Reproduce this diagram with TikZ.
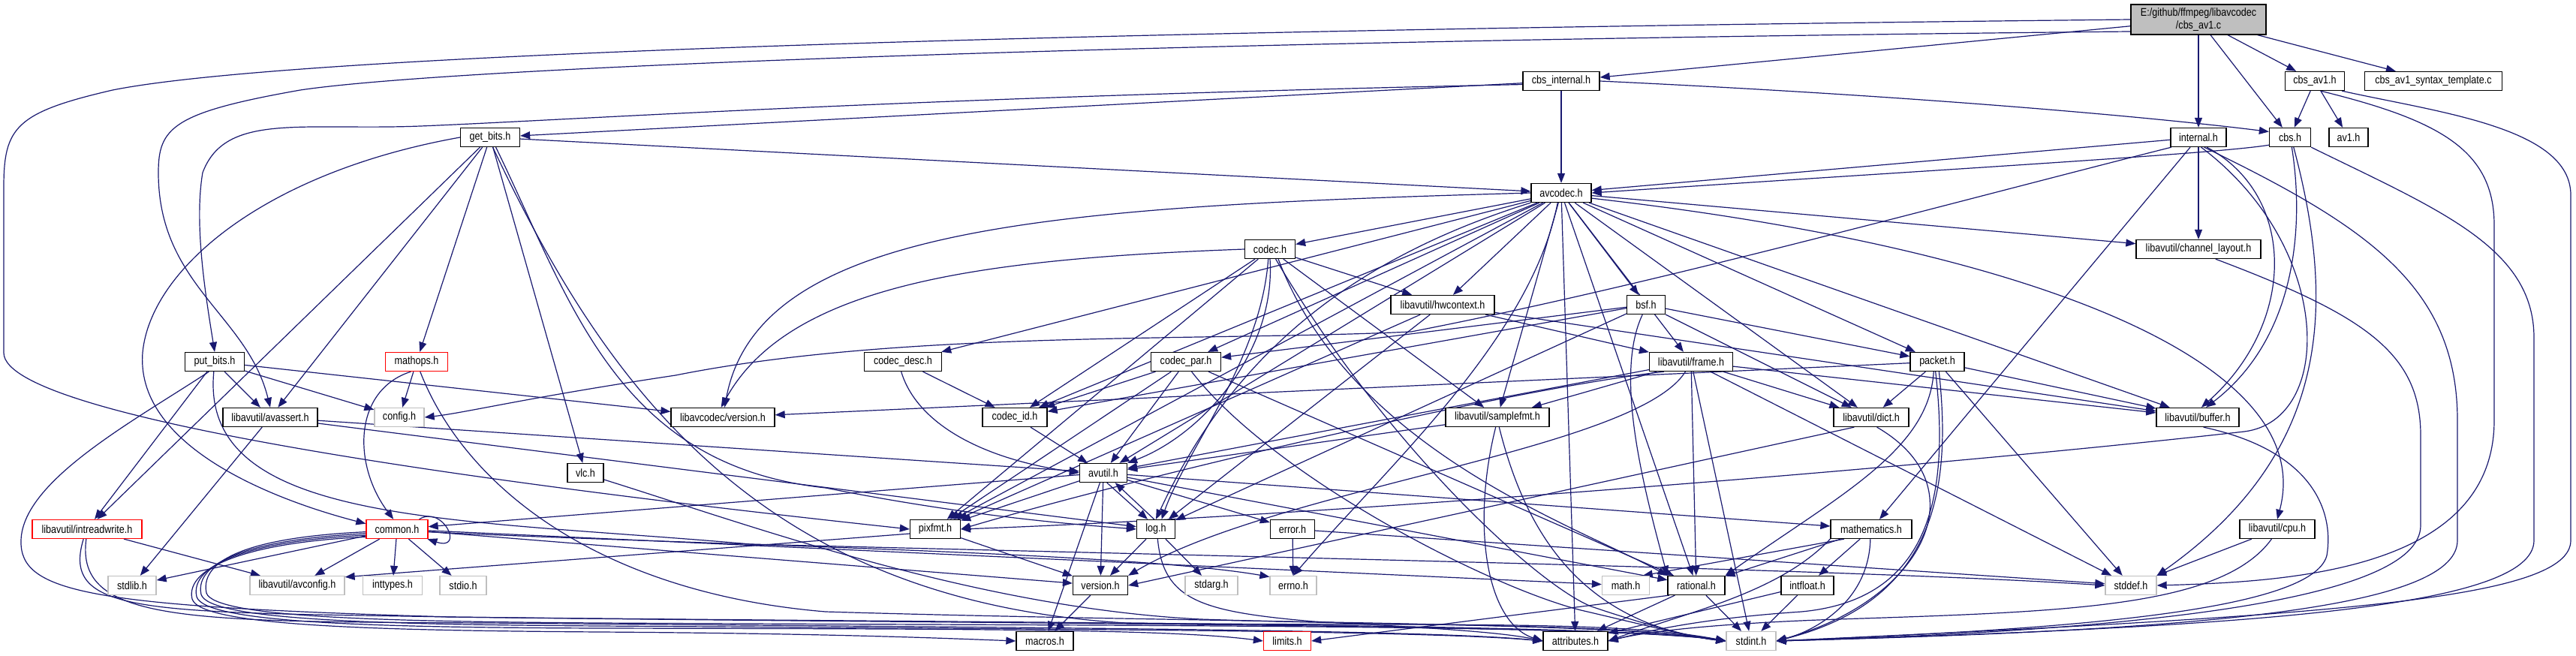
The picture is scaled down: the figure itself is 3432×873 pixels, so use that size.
\documentclass[tikz,border=0pt]{standalone}
\usepackage{fontspec}
\setmainfont{Liberation Sans}[FakeStretch=0.85]
\usepackage{tikz}
\usetikzlibrary{arrows.meta}
\definecolor{edgeblue}{RGB}{25,25,112}
\definecolor{boxgray}{RGB}{191,191,191}
\pgfdeclarelayer{bg}
\pgfdeclarelayer{edges}
\pgfsetlayers{bg,edges,main}

\begin{document}
\begin{tikzpicture}[x=0.5pt, y=-0.5pt, every node/.style={font=\fontsize{7.4}{8.2}\selectfont},
  hdr/.style={draw=black, fill=white, line width=0.65pt, minimum height=12.5pt, inner xsep=2pt, inner ysep=0pt},
  sysh/.style={hdr, draw=boxgray},
  trunc/.style={hdr, draw=red},
  rootf/.style={hdr, fill=boxgray, align=center, minimum height=20pt},
  wd/.style={minimum width=#1*0.5pt},
  dep/.style={draw=edgeblue, line width=0.6pt, -{Triangle[length=6.5pt,width=5pt]}}]
  \useasboundingbox (0,0) rectangle (3432,873);
  \begin{pgfonlayer}{bg}
    \fill[white] (0,0) rectangle (3432,873);
  \end{pgfonlayer}
  \node[rootf, wd=180] (cbsav1c) at (2929,26) {E:/github/ffmpeg/libavcodec\\/cbs\_av1.c};
  \node[hdr, wd=102] (cbsinternal) at (2080,108) {cbs\_internal.h};
  \node[hdr, wd=79] (cbsav1h) at (3084,108) {cbs\_av1.h};
  \node[hdr, wd=183] (template) at (3242,108) {cbs\_av1\_syntax\_template.c};
  \node[hdr, wd=74] (internal) at (2929,183) {internal.h};
  \node[hdr, wd=55] (cbsh) at (3051,183) {cbs.h};
  \node[hdr, wd=52] (av1h) at (3129,183) {av1.h};
  \node[hdr, wd=79] (getbits) at (653,183) {get\_bits.h};
  \node[hdr, wd=80] (avcodec) at (2080,257) {avcodec.h};
  \node[hdr, wd=166] (channellayout) at (2929,332) {libavutil/channel\_layout.h};
  \node[hdr, wd=67] (codec) at (1692,332) {codec.h};
  \node[hdr, wd=138] (hwcontext) at (1922,406) {libavutil/hwcontext.h};
  \node[hdr, wd=51] (bsf) at (2193,406) {bsf.h};
  \node[hdr, wd=79] (putbits) at (286,482) {put\_bits.h};
  \node[trunc, wd=83] (mathops) at (555,482) {mathops.h};
  \node[hdr, wd=103] (codecdesc) at (1203,482) {codec\_desc.h};
  \node[hdr, wd=93] (codecpar) at (1580,482) {codec\_par.h};
  \node[hdr, wd=111] (frame) at (2253,482) {libavutil/frame.h};
  \node[hdr, wd=72] (packet) at (2581,482) {packet.h};
  \node[hdr, wd=126] (avassert) at (360,556) {libavutil/avassert.h};
  \node[sysh, wd=66] (config) at (532,556) {config.h};
  \node[hdr, wd=138] (lavcversion) at (963,556) {libavcodec/version.h};
  \node[hdr, wd=86] (codecid) at (1352,556) {codec\_id.h};
  \node[hdr, wd=138] (samplefmt) at (1995,556) {libavutil/samplefmt.h};
  \node[hdr, wd=100] (dict) at (2493,556) {libavutil/dict.h};
  \node[hdr, wd=110] (buffer) at (2928,556) {libavutil/buffer.h};
  \node[hdr, wd=48] (vlc) at (780,630) {vlc.h};
  \node[hdr, wd=63] (avutil) at (1470,630) {avutil.h};
  \node[trunc, wd=146] (intreadwrite) at (116,705) {libavutil/intreadwrite.h};
  \node[trunc, wd=82] (common) at (529,705) {common.h};
  \node[hdr, wd=67] (pixfmt) at (1246,705) {pixfmt.h};
  \node[hdr, wd=51] (log) at (1540,705) {log.h};
  \node[hdr, wd=59] (error) at (1722,705) {error.h};
  \node[hdr, wd=108] (mathematics) at (2493,705) {mathematics.h};
  \node[hdr, wd=100] (cpu) at (3034,705) {libavutil/cpu.h};
  \node[sysh, wd=64] (stdlib) at (176,780) {stdlib.h};
  \node[sysh, wd=126] (avconfig) at (396,780) {libavutil/avconfig.h};
  \node[sysh, wd=79] (inttypes) at (523,780) {inttypes.h};
  \node[sysh, wd=62] (stdio) at (617,780) {stdio.h};
  \node[hdr, wd=73] (version) at (1466,780) {version.h};
  \node[sysh, wd=70] (stdarg) at (1614,780) {stdarg.h};
  \node[sysh, wd=62] (errno) at (1723,780) {errno.h};
  \node[sysh, wd=63] (math) at (2166,780) {math.h};
  \node[hdr, wd=76] (rational) at (2260,780) {rational.h};
  \node[hdr, wd=70] (intfloat) at (2408,780) {intfloat.h};
  \node[sysh, wd=68] (stddef) at (2839,780) {stddef.h};
  \node[hdr, wd=76] (macros) at (1392,854) {macros.h};
  \node[trunc, wd=63] (limits) at (1715,854) {limits.h};
  \node[hdr, wd=86] (attributes) at (2099,854) {attributes.h};
  \node[sysh, wd=66] (stdint) at (2333,854) {stdint.h};
  \begin{pgfonlayer}{edges}
  \draw[dep] (cbsav1c.west) .. controls (1500,40) and (400,70) .. (150,120) .. controls (20,150) and (5,170) .. (5,250) -- (5,470) .. controls (5,560) and (700,650) .. (pixfmt.west);
  \draw[dep] (cbsav1c.190) .. controls (1500,55) and (600,90) .. (400,120) .. controls (230,150) and (211,170) .. (211,230) .. controls (211,380) and (330,420) .. (avassert.north);
  \draw[dep] (cbsav1c) -- (cbsinternal);
  \draw[dep] (cbsav1c) -- (internal);
  \draw[dep] (cbsav1c) -- (cbsh);
  \draw[dep] (cbsav1c) -- (cbsav1h);
  \draw[dep] (cbsav1c) -- (template);
  \draw[dep] (cbsinternal) -- (avcodec);
  \draw[dep] (cbsinternal.east) .. controls (2600,130) and (2900,160) .. (cbsh.165);
  \draw[dep] (cbsinternal) -- (getbits);
  \draw[dep] (cbsinternal.185) .. controls (1200,130) and (760,160) .. (560,168) .. controls (400,174) and (300,150) .. (270,230) .. controls (258,300) and (275,400) .. (putbits.north);
  \draw[dep] (cbsav1h) -- (cbsh);
  \draw[dep] (cbsav1h) -- (av1h);
  \draw[dep] (cbsav1h.-60) .. controls (3250,160) and (3323,200) .. (3323,300) -- (3323,560) .. controls (3323,760) and (3050,775) .. (stddef.east);
  \draw[dep] (cbsav1h.-20) .. controls (3250,150) and (3425,170) .. (3425,260) -- (3425,720) .. controls (3425,800) and (3100,820) .. (stdint.east);
  \draw[dep] (cbsh.200) .. controls (2950,205) and (2600,225) .. (avcodec.east);
  \draw[dep] (cbsh.-80) .. controls (3070,300) and (3060,450) .. (buffer.50);
  \draw[dep] (cbsh.-70) .. controls (3110,400) and (3110,600) .. (stddef.north east);
  \draw[dep] (cbsh.south east) .. controls (3250,280) and (3376,330) .. (3376,450) -- (3376,720) .. controls (3376,810) and (3000,835) .. (stdint.east);
  \draw[dep] (internal) -- (avcodec);
  \draw[dep] (internal) -- (channellayout);
  \draw[dep] (internal) -- (mathematics);
  \draw[dep] (internal.-50) .. controls (3060,260) and (3060,430) .. (buffer.70);
  \draw[dep] (internal.-75) .. controls (3110,330) and (3110,560) .. (2990,575) .. controls (2500,630) and (1700,690) .. (pixfmt.east);
  \draw[dep] (internal.-60) .. controls (3150,300) and (3274,380) .. (3274,560) -- (3274,720) .. controls (3274,815) and (2900,840) .. (stdint.east);
  \draw[dep] (internal.200) .. controls (2600,270) and (2200,380) .. (1880,442) .. controls (1600,455) and (1200,440) .. (900,500) .. controls (700,530) and (620,550) .. (config.east);
  \draw[dep] (getbits) -- (avcodec);
  \draw[dep] (getbits) -- (mathops);
  \draw[dep] (getbits) -- (vlc);
  \draw[dep] (getbits) -- (avassert);
  \draw[dep] (getbits) -- (intreadwrite);
  \draw[dep] (getbits.west) .. controls (350,230) and (200,360) .. (190,470) .. controls (180,600) and (380,670) .. (common.170);
  \draw[dep] (getbits.-60) .. controls (760,400) and (820,620) .. (1100,650) .. controls (1300,690) and (1450,700) .. (log.west);
  \draw[dep] (getbits.-75) .. controls (800,500) and (1000,800) .. (1500,830) .. controls (1900,835) and (2150,825) .. (stdint.west);
  \draw[dep] (putbits) -- (config);
  \draw[dep] (putbits) -- (intreadwrite);
  \draw[dep] (putbits) -- (avassert);
  \draw[dep] (putbits) -- (lavcversion);
  \draw[dep] (putbits.-120) .. controls (180,560) and (30,640) .. (28,720) .. controls (26,790) and (120,808) .. (600,822) .. controls (1400,832) and (2150,832) .. (stdint.west);
  \draw[dep] (putbits.-95) .. controls (265,700) and (600,690) .. (1000,725) .. controls (1800,745) and (2500,760) .. (stddef.west);
  \draw[dep] (avcodec) -- (codec);
  \draw[dep] (avcodec) -- (hwcontext);
  \draw[dep] (avcodec) -- (bsf);
  \draw[dep] (avcodec) -- (codecdesc);
  \draw[dep] (avcodec) -- (codecpar);
  \draw[dep] (avcodec) -- (codecid);
  \draw[dep] (avcodec) -- (frame);
  \draw[dep] (avcodec) -- (packet);
  \draw[dep] (avcodec) -- (samplefmt);
  \draw[dep] (avcodec) -- (dict);
  \draw[dep] (avcodec) -- (buffer);
  \draw[dep] (avcodec) -- (channellayout);
  \draw[dep] (avcodec) -- (avutil);
  \draw[dep] (avcodec) -- (pixfmt);
  \draw[dep] (avcodec) -- (rational);
  \draw[dep] (avcodec) -- (attributes);
  \draw[dep] (avcodec.west) .. controls (1400,275) and (1010,300) .. (lavcversion.80);
  \draw[dep] (avcodec.south west) .. controls (1750,360) and (1620,520) .. (log.north);
  \draw[dep] (avcodec.-110) .. controls (2040,450) and (1850,620) .. (errno.north);
  \draw[dep] (avcodec.-10) .. controls (2700,330) and (3090,480) .. (cpu.north);
  \draw[dep] (codec) -- (hwcontext);
  \draw[dep] (codec) -- (pixfmt);
  \draw[dep] (codec) -- (samplefmt);
  \draw[dep] (codec) -- (codecid);
  \draw[dep] (codec.south) .. controls (1700,470) and (1600,580) .. (avutil.north east);
  \draw[dep] (codec.-100) .. controls (1680,480) and (1580,600) .. (log.60);
  \draw[dep] (codec.-50) .. controls (1800,600) and (2100,700) .. (rational.north west);
  \draw[dep] (codec.-60) .. controls (1850,600) and (2050,780) .. (2120,808) .. controls (2200,835) and (2260,850) .. (stdint.west);
  \draw[dep] (codec.west) .. controls (1300,345) and (1050,380) .. (lavcversion.100);
  \draw[dep] (codecdesc) -- (codecid);
  \draw[dep] (codecdesc.-100) .. controls (1220,560) and (1300,610) .. (avutil.west);
  \draw[dep] (codecid) -- (avutil);
  \draw[dep] (codecpar) -- (codecid);
  \draw[dep] (codecpar) -- (avutil);
  \draw[dep] (codecpar) -- (pixfmt);
  \draw[dep] (codecpar) -- (rational);
  \draw[dep] (codecpar.-60) .. controls (1700,640) and (2000,790) .. (2115,815) .. controls (2200,835) and (2260,850) .. (stdint.west);
  \draw[dep] (bsf) -- (codecpar);
  \draw[dep] (bsf) -- (codecid);
  \draw[dep] (bsf) -- (packet);
  \draw[dep] (bsf) -- (dict);
  \draw[dep] (bsf) -- (log);
  \draw[dep] (bsf.-110) .. controls (2150,500) and (2190,650) .. (rational.north west);
  \draw[dep] (hwcontext) -- (buffer);
  \draw[dep] (hwcontext) -- (frame);
  \draw[dep] (hwcontext) -- (log);
  \draw[dep] (hwcontext) -- (pixfmt);
  \draw[dep] (packet) -- (buffer);
  \draw[dep] (packet) -- (dict);
  \draw[dep] (packet) -- (stddef);
  \draw[dep] (packet) -- (lavcversion);
  \draw[dep] (packet.-110) .. controls (2570,600) and (2450,660) .. (rational.north east);
  \draw[dep] (packet.-100) .. controls (2600,680) and (2560,800) .. (2400,815) .. controls (2250,825) and (2180,845) .. (attributes.east);
  \draw[dep] (packet.-80) .. controls (2600,650) and (2580,800) .. (stdint.east);
  \draw[dep] (frame) -- (samplefmt);
  \draw[dep] (frame) -- (dict);
  \draw[dep] (frame) -- (buffer);
  \draw[dep] (frame) -- (rational);
  \draw[dep] (frame) -- (avutil);
  \draw[dep] (frame) -- (stddef);
  \draw[dep] (frame) -- (stdint);
  \draw[dep] (frame.200) .. controls (2000,520) and (1500,640) .. (pixfmt.east);
  \draw[dep] (frame.-120) .. controls (2180,600) and (1700,650) .. (version.north east);
  \draw[dep] (samplefmt) -- (avutil);
  \draw[dep] (samplefmt.-100) .. controls (1960,700) and (1980,830) .. (attributes.west);
  \draw[dep] (samplefmt.-80) .. controls (2030,700) and (2100,830) .. (stdint.west);
  \draw[dep] (dict.-150) -- (version.east);
  \draw[dep] (dict.-60) .. controls (2640,650) and (2560,800) .. (stdint.east);
  \draw[dep] (buffer.-60) .. controls (3080,600) and (3110,680) .. (3100,740) .. controls (3080,820) and (2700,840) .. (stdint.east);
  \draw[dep] (channellayout.-30) .. controls (3150,420) and (3225,470) .. (3225,580) -- (3225,700) .. controls (3225,800) and (2850,840) .. (stdint.east);
  \draw[dep] (cpu) -- (stddef);
  \draw[dep] (cpu.-120) .. controls (2960,810) and (2750,815) .. (2450,825) .. controls (2300,830) and (2200,840) .. (attributes.east);
  \draw[dep] (mathematics) -- (rational);
  \draw[dep] (mathematics) -- (intfloat);
  \draw[dep] (mathematics.200) -- (math.30);
  \draw[dep] (mathematics.south west) .. controls (2370,790) and (2250,815) .. (attributes.east);
  \draw[dep] (mathematics.-95) .. controls (2490,800) and (2420,840) .. (stdint.east);
  \draw[dep] (rational) -- (stdint);
  \draw[dep] (rational) -- (attributes);
  \draw[dep] (rational.200) -- (limits.east);
  \draw[dep] (intfloat) -- (stdint);
  \draw[dep] (intfloat) -- (attributes);
  \draw[dep] (avutil) -- (common);
  \draw[dep] (avutil) -- (error);
  \draw[dep] (avutil) -- (rational);
  \draw[dep] (avutil) -- (version);
  \draw[dep] (avutil) -- (macros);
  \draw[dep] (avutil) -- (mathematics);
  \draw[dep] (avutil) -- (pixfmt);
  \draw[dep] (avutil.-70) -- (log.130);
  \draw[dep] (log.100) -- (avutil.-40);
  \draw[dep] (log) -- (stdarg);
  \draw[dep] (log) -- (version);
  \draw[dep] (log.-80) .. controls (1550,800) and (1600,815) .. (1750,828) .. controls (1900,836) and (2000,842) .. (attributes.west);
  \draw[dep] (error) -- (errno);
  \draw[dep] (error) -- (stddef);
  \draw[dep] (pixfmt.190) -- (avconfig.10);
  \draw[dep] (pixfmt) -- (version);
  \draw[dep] (version) -- (macros);
  \draw[dep] (common) -- (stdlib);
  \draw[dep] (common) -- (avconfig);
  \draw[dep] (common) -- (inttypes);
  \draw[dep] (common) -- (stdio);
  \draw[dep] (common) -- (version);
  \draw[dep] (common) -- (math);
  \draw[dep] (common.-5) .. controls (900,725) and (1500,735) .. (errno.160);
  \draw[dep] (common.185) .. controls (350,715) and (265,740) .. (275,790) .. controls (285,822) and (500,828) .. (800,830) .. controls (1500,834) and (2150,832) .. (stdint.west);
  \draw[dep] (common.188) .. controls (345,718) and (258,745) .. (268,792) .. controls (278,826) and (500,832) .. (800,834) .. controls (1400,838) and (1900,840) .. (attributes.west);
  \draw[dep] (common.191) .. controls (340,720) and (252,750) .. (262,795) .. controls (272,830) and (500,836) .. (800,837) .. controls (1300,838) and (1560,838) .. (limits.west);
  \draw[dep] (common.194) .. controls (335,722) and (246,755) .. (256,798) .. controls (266,834) and (500,840) .. (800,842) .. controls (1100,844) and (1250,850) .. (macros.west);
  \draw[dep] (common.24) .. controls (590,672) and (620,735) .. (common.-18);
  \draw[dep] (intreadwrite) -- (avconfig);
  \draw[dep] (intreadwrite.-110) .. controls (80,820) and (200,815) .. (600,822) .. controls (1300,830) and (2150,830) .. (stdint.west);
  \draw[dep] (intreadwrite.-95) .. controls (100,830) and (250,828) .. (650,830) .. controls (1300,836) and (1900,838) .. (attributes.west);
  \draw[dep] (avassert) -- (stdlib);
  \draw[dep] (avassert) -- (avutil);
  \draw[dep] (avassert) -- (log);
  \draw[dep] (mathops) -- (config);
  \draw[dep] (mathops.-120) .. controls (470,520) and (470,620) .. (common.110);
  \draw[dep] (mathops.-70) .. controls (620,650) and (800,790) .. (1100,815) .. controls (1600,830) and (2150,828) .. (stdint.west);
  \draw[dep] (vlc.-20) .. controls (1000,700) and (1300,810) .. (1600,825) .. controls (1900,835) and (2150,830) .. (stdint.west);
  \end{pgfonlayer}
\end{tikzpicture}
\end{document}
